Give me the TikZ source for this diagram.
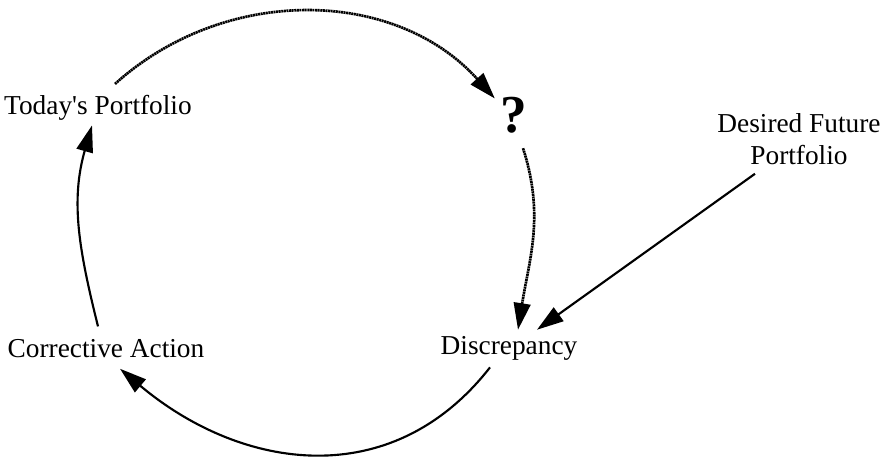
\documentclass[tikz,border=0pt]{standalone}
\usepackage{fontspec}
\setmainfont{Liberation Serif}
\usetikzlibrary{arrows.meta}

\tikzset{every picture/.style={line width=0.75pt}}
\tikzset{
  loopline/.style={line width=1.6pt,-{Triangle[length=20pt,width=12.5pt]}},
  dotline/.style={loopline,line width=2pt,dash pattern=on 1.5pt off 0.45pt},
  lbl/.style={anchor=base,inner sep=3pt,font=\fontsize{20.5}{24}\selectfont},
}

\begin{document}
\begin{tikzpicture}[x=0.75pt,y=0.75pt]
\useasboundingbox (0,0) rectangle (883,460);

% Text Node
\node [lbl] (today) at (98,345) {Today\textquotesingle s Portfolio};
% Text Node
\node [lbl,font=\fontsize{40}{44}\selectfont\bfseries] (quest) at (514,327) {?};
% Text Node
\node [lbl,align=center] (desired) at (799,295) {Desired Future\\Portfolio};
% Text Node
\node [lbl] (corr) at (106,102) {Corrective Action};
% Text Node
\node [lbl] (disc) at (509,105) {Discrepancy};

%Curve Lines
\draw [dotline] ([xshift=12.75pt,yshift=5.5pt]today.north) to[out=42,in=132] ([xshift=-1pt,yshift=-4pt]quest.north west);
\draw [dotline] ([xshift=6.75pt,yshift=-7.5pt]quest.south) to[out=-72,in=81] ([xshift=6.75pt,yshift=2pt]disc.north);
%Straight Lines
\draw [loopline] ([xshift=-33pt,yshift=-3pt]desired.south) -- ([xshift=21pt,yshift=2pt]disc.north);
%Curve Lines
\draw [loopline] ([xshift=-14.25pt,yshift=-1.5pt]disc.south) to[out=-128,in=-40,looseness=1.1] ([xshift=10.5pt,yshift=-4.5pt]corr.south);
\draw [loopline] ([xshift=-6pt,yshift=6.75pt]corr.north) to[out=104,in=-106] ([xshift=-4.5pt]today.south);

\end{tikzpicture}
\end{document}
